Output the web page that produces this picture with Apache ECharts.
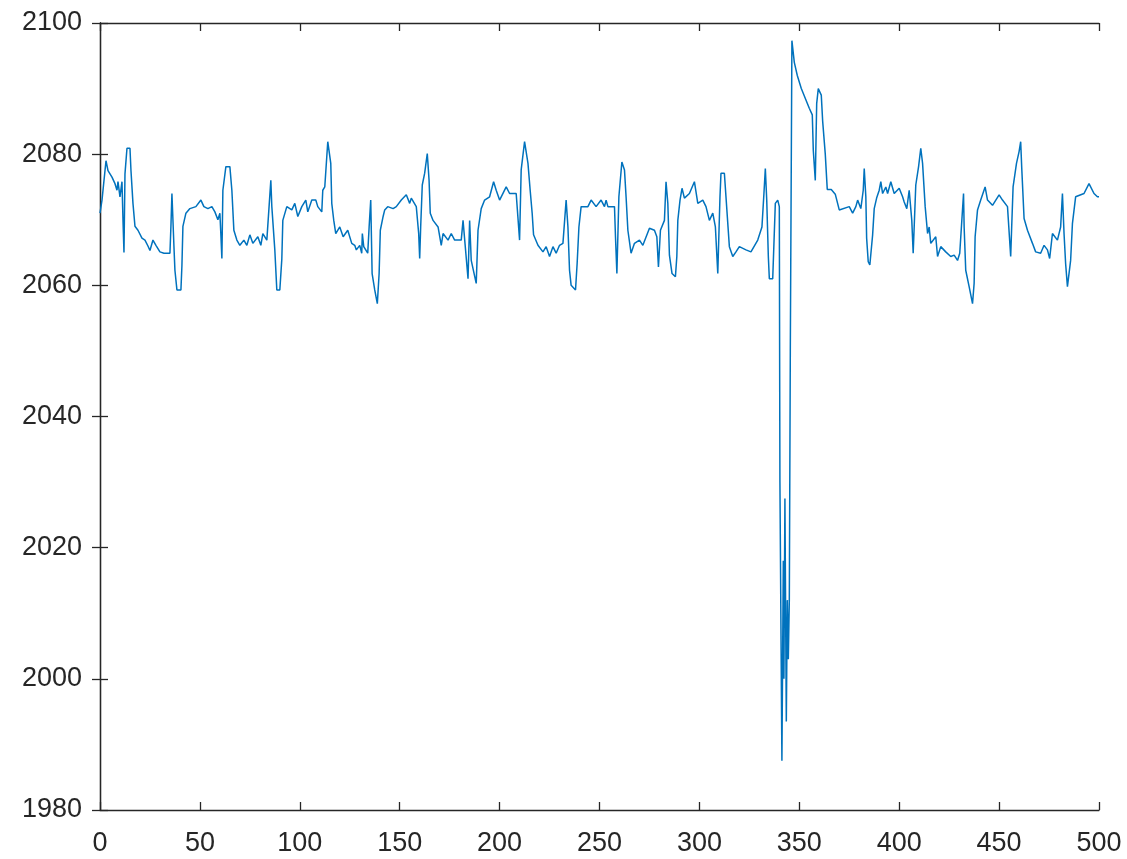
<!DOCTYPE html>
<html>
<head>
<meta charset="utf-8">
<script src="https://cdn.jsdelivr.net/npm/echarts@6/dist/echarts.min.js"></script>
<style>
  html, body { margin: 0; padding: 0; background: #fff; }
  #chart { width: 1127px; height: 859px; }
</style>
</head>
<body>
<div id="chart"></div>
<script>
// sample index (x) and reading (y)
const xs = [
  0, 1, 3, 4, 6, 7.5, 8.5, 9, 10, 11, 11.5, 12, 12.5, 13.5, 15, 15.5, 16.5, 17.5, 19, 21,
  22.5, 24, 25, 26.5, 28, 30, 32, 35, 35.5, 36, 37, 37.5, 38.5, 40.5, 41, 41.5, 43, 45, 48, 50.5,
  52, 54, 56, 57.5, 59, 60, 60.5, 61, 61.5, 63, 65, 66, 67, 68.5, 70, 72, 73.5, 75, 76.5, 79,
  80.5, 81.5, 83.5, 85.5, 86, 87.5, 88.5, 90, 91, 91.5, 93.5, 96, 97.5, 99, 101, 103, 104, 106, 108, 109,
  111, 111.5, 112.5, 113.5, 114, 115.5, 116, 117, 118, 120, 121.7, 124, 126, 127.5, 128.3, 130, 131, 131.3, 132, 134,
  134.7, 135.5, 136.2, 137.5, 138.8, 139.7, 140.3, 141.7, 142.5, 144, 146.7, 148.3, 150.8, 153.3, 155, 155.8, 158.3, 159.5, 160, 160.5,
  161.3, 162.5, 163.8, 164.7, 165.3, 166.7, 169.2, 170.8, 171.7, 174.2, 175.8, 177.5, 180.8, 181.7, 184.2, 185, 185.8, 188.3, 189.2, 190.8,
  192.5, 195, 197, 198.3, 200, 203.3, 205, 208.3, 210, 210.8, 212.5, 214.2, 215.3, 216.3, 217, 219.2, 221.7, 223.3, 225, 226.7,
  228.3, 230, 231.7, 233.3, 234.2, 235, 235.8, 238, 238.8, 239.7, 240.8, 244.2, 245.8, 248.3, 250.8, 252.5, 253.3, 254.2, 257.5, 258,
  258.7, 259.7, 261.2, 262.5, 263.3, 264.2, 265.8, 267.5, 270, 271.7, 275, 277.5, 278.7, 279.5, 280.5, 282.5, 283.3, 284.2, 285, 286.3,
  288, 288.7, 289.2, 290.3, 291.3, 292.5, 295, 297.5, 299.2, 301.7, 303.3, 305, 306.7, 308, 309.2, 310.3, 310.8, 312.5, 313.3, 315,
  316.7, 318.3, 320, 323.3, 325.8, 329.2, 331.3, 332.3, 333, 333.7, 334.5, 335, 336.7, 338, 339.2, 340, 340.3, 341, 341.3, 341.7,
  342, 342.3, 342.8, 343.5, 344, 344.5, 345, 345.5, 346.3, 347.5, 349, 351, 355, 356.5, 357, 358, 358.7, 359.5, 361, 361.7,
  363, 364, 366, 368, 370, 375, 376.7, 378.3, 379.2, 380.8, 381.7, 382, 382.5, 383.3, 383.7, 384.5, 385.3, 386.7, 387.5, 388.7,
  390, 390.8, 391.7, 393.3, 394.2, 395.8, 397.5, 400, 401.7, 402.5, 403.8, 405, 406.3, 407, 408.3, 409.7, 410.8, 411.7, 413, 414.2,
  415, 415.8, 418.3, 419.2, 420.8, 423.3, 425.8, 427.5, 429.2, 430.3, 432.2, 432.5, 433.3, 435, 436.7, 437.5, 438, 439.2, 440.8, 443,
  444.2, 446.7, 450, 451.7, 454.2, 455.8, 456.3, 457, 458.7, 460, 460.8, 461.3, 462.5, 464.2, 466.7, 468.3, 470.8, 472.5, 474.2, 475.3,
  476.7, 479.2, 480.8, 481.7, 482.5, 483.3, 484.2, 485, 485.8, 486.7, 488.3, 492.5, 495, 497.5, 499.2, 500
];
const ys = [
  2071, 2073, 2079, 2077.5, 2076.5, 2075.5, 2074.5, 2075.8, 2073.5, 2075.8, 2070, 2065, 2077, 2080.9, 2080.9, 2077.5, 2072.5, 2069, 2068.4, 2067.2,
  2066.9, 2066, 2065.3, 2066.9, 2066.1, 2065.1, 2064.9, 2064.9, 2069, 2074, 2066, 2062.3, 2059.3, 2059.3, 2063, 2069, 2071, 2071.7, 2072, 2073,
  2072, 2071.7, 2072, 2071.2, 2070, 2071, 2067.7, 2064.1, 2074.5, 2078.1, 2078.1, 2074.5, 2068.4, 2066.9, 2066.1, 2066.9, 2066.1, 2067.7, 2066.4, 2067.4,
  2066.1, 2067.9, 2066.9, 2076, 2072, 2065.4, 2059.3, 2059.3, 2064, 2069.9, 2072, 2071.5, 2072.5, 2070.5, 2072, 2073, 2071.2, 2073, 2073, 2072,
  2071.2, 2074.5, 2075, 2079.6, 2081.9, 2078.6, 2072.5, 2069.9, 2067.9, 2068.9, 2067.4, 2068.4, 2066.4, 2066.1, 2065.4, 2066.1, 2064.9, 2067.9, 2065.9, 2064.9,
  2068.9, 2073, 2061.8, 2059.3, 2057.2, 2061.8, 2068.4, 2070.5, 2071.5, 2072, 2071.7, 2072, 2073, 2073.8, 2072.5, 2073.3, 2072, 2067.9, 2064.1, 2068.9,
  2075.3, 2077.1, 2080.1, 2076, 2071, 2069.9, 2068.9, 2066.1, 2067.9, 2066.9, 2067.9, 2066.9, 2066.9, 2069.9, 2061, 2069.9, 2063.8, 2060.3, 2068.4, 2071.7,
  2073, 2073.5, 2075.8, 2074.5, 2073, 2075, 2074, 2074, 2066.9, 2077.6, 2081.9, 2078.6, 2074.5, 2071, 2067.7, 2066.1, 2065.1, 2065.9, 2064.4, 2065.9,
  2064.9, 2066.1, 2066.4, 2073, 2068.9, 2062.3, 2060, 2059.3, 2063.3, 2068.9, 2072, 2072, 2073, 2072, 2073, 2072, 2073, 2072, 2072, 2067.4,
  2061.8, 2073.5, 2078.8, 2077.6, 2073.5, 2068.4, 2064.9, 2066.4, 2066.9, 2066.1, 2068.7, 2068.4, 2067.4, 2062.8, 2068.4, 2069.9, 2075.8, 2072.5, 2064.6, 2061.8,
  2061.3, 2064.4, 2069.9, 2073, 2074.8, 2073.3, 2074, 2075.8, 2072.5, 2073, 2072, 2069.9, 2071, 2068.9, 2061.8, 2073.5, 2077.1, 2077.1, 2073.5, 2065.9,
  2064.4, 2065.1, 2065.9, 2065.4, 2065.1, 2066.9, 2068.9, 2074, 2077.8, 2073, 2064.4, 2061, 2061, 2072.5, 2073, 2072, 2030, 2030, 1987.5, 2005,
  2018, 2000, 2027.5, 1993.5, 2012, 2003, 2012, 2050, 2097.3, 2094, 2092, 2090, 2087, 2086, 2080.6, 2076, 2087.7, 2090, 2089, 2085,
  2080, 2074.6, 2074.6, 2073.9, 2071.5, 2072, 2071, 2072, 2073, 2071.7, 2071.5, 2074.5, 2077.8, 2073.5, 2067.2, 2063.6, 2063.1, 2067.7, 2071.7, 2073.3,
  2074.5, 2075.8, 2074, 2075, 2074, 2075.8, 2074, 2074.8, 2073.5, 2072.7, 2071.7, 2074.5, 2069.9, 2064.9, 2075.3, 2078.1, 2080.9, 2078.6, 2072, 2067.9,
  2068.9, 2066.4, 2067.4, 2064.4, 2065.9, 2065.1, 2064.4, 2064.6, 2063.8, 2064.9, 2074, 2068.9, 2062.3, 2059.8, 2057.2, 2060.3, 2067.4, 2071.5, 2073, 2075,
  2073, 2072.2, 2073.8, 2073, 2072, 2064.4, 2068.9, 2075, 2078.6, 2080.4, 2081.9, 2078.1, 2070.2, 2068.4, 2066.4, 2065.1, 2064.9, 2066.1, 2065.4, 2064.1,
  2067.9, 2066.9, 2068.9, 2074, 2067.9, 2063.3, 2059.8, 2059.8, 2063.8, 2069.4, 2073.5, 2074, 2075.5, 2074, 2073.5, 2073.5
];

const xTicks = { min: 0, max: 500, interval: 50 };
const yTicks = { min: 1980, max: 2100, interval: 20 };

const axisColor = '#262626';
const font = { fontFamily: '"Liberation Sans", Arial, sans-serif', fontSize: 27, color: axisColor };

const frameAxis = (extra) => ({
  type: 'value',
  axisLine: { show: true, lineStyle: { color: axisColor, width: 1.3 } },
  axisTick: { show: true, inside: true, length: 8, lineStyle: { color: axisColor, width: 1.3 } },
  splitLine: { show: false },
  ...extra,
});

const chart = echarts.init(document.getElementById('chart'));

chart.setOption({
  animation: false,
  backgroundColor: '#ffffff',
  grid: { left: 100, right: 28, top: 23, bottom: 49, containLabel: false },
  xAxis: [
    frameAxis({ ...xTicks, position: 'bottom', axisLabel: { ...font, margin: 20, formatter: (v) => String(v) } }),
    frameAxis({ ...xTicks, position: 'top', axisLabel: { show: false } }),
  ],
  yAxis: [
    frameAxis({ ...yTicks, position: 'left', axisLabel: { ...font, margin: 18, formatter: (v) => String(v) } }),
    frameAxis({ ...yTicks, position: 'right', axisLabel: { show: false } }),
  ],
  series: [
    {
      type: 'line',
      data: xs.map((x, i) => [x, ys[i]]),
      symbol: 'none',
      color: '#0072BD',
      lineStyle: { width: 1.5 },
      emphasis: { disabled: true },
    },
  ],
});
</script>
</body>
</html>
